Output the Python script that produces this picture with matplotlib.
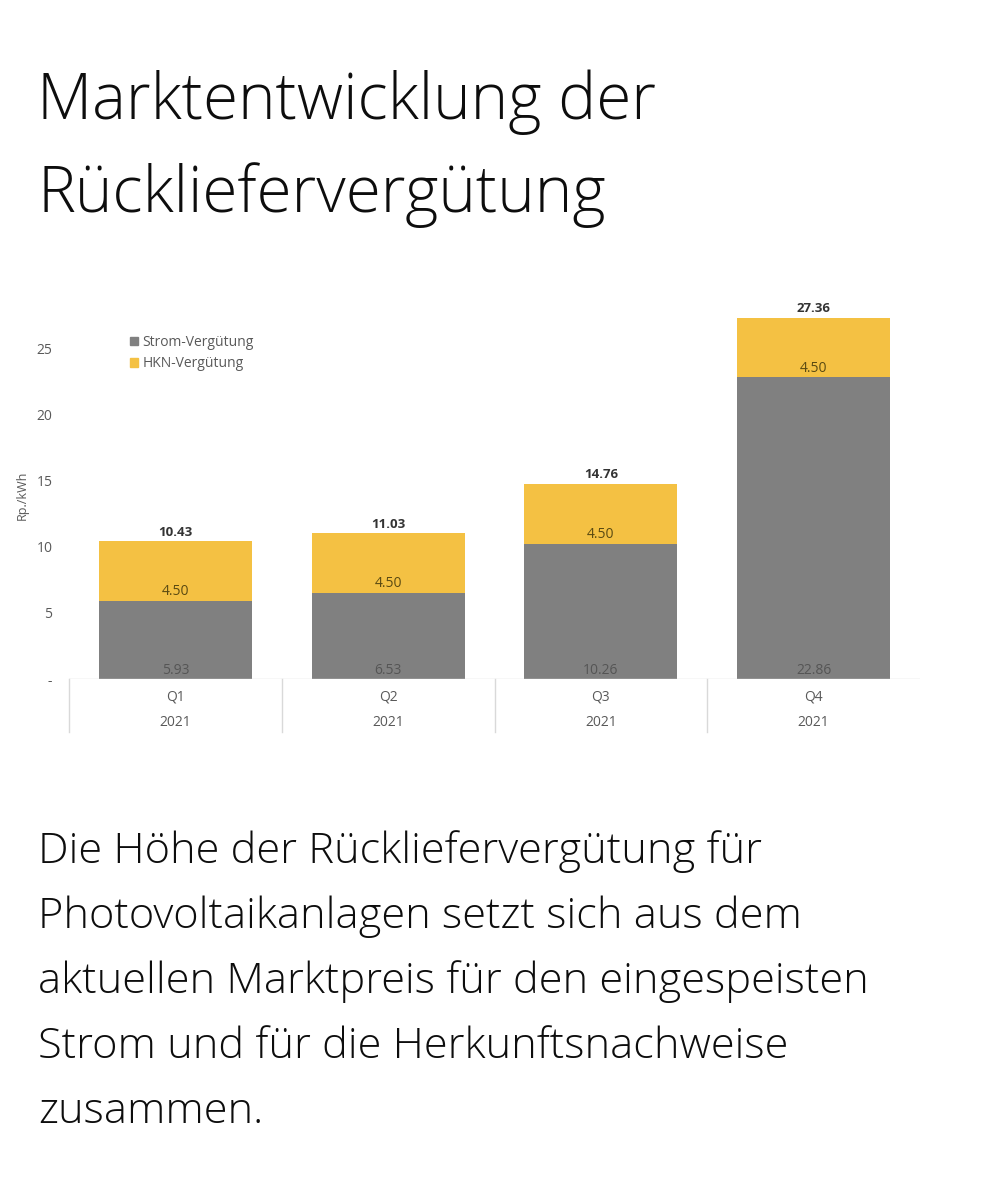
import matplotlib
matplotlib.use("Agg")
import matplotlib.pyplot as plt
import matplotlib.transforms as mtransforms
from matplotlib.patches import Patch

# data
quarters = ['Q1', 'Q2', 'Q3', 'Q4']
years = ['2021', '2021', '2021', '2021']
strom = [5.93, 6.53, 10.26, 22.86]   # Strom-Vergütung
hkn = [4.50, 4.50, 4.50, 4.50]       # HKN-Vergütung
totals = [10.43, 11.03, 14.76, 27.36]
yticks = [0, 5, 10, 15, 20, 25]
ytick_labels = ['-', '5', '10', '15', '20', '25']

title_lines = ['Marktentwicklung der', 'Rückliefervergütung']
body_lines = ['Die Höhe der Rückliefervergütung für',
              'Photovoltaikanlagen setzt sich aus dem',
              'aktuellen Marktpreis für den eingespeisten',
              'Strom und für die Herkunftsnachweise',
              'zusammen.']

GREY = '#808080'
YELLOW = '#F4C143'
TXT = '#595959'
CHART_FONT = 'Open Sans'

W, H = 994, 1200
fig = plt.figure(figsize=(W / 100, H / 100), dpi=100)
fig.patch.set_facecolor('white')
renderer = fig.canvas.get_renderer()

def px(x, y):
    # pixel position (from top left) -> figure fraction
    return x / W, 1 - y / H

def fit_text(lines, x0, y0, step, first_width):
    # size the block so its first line is as wide as in the reference
    texts = [fig.text(*px(x0, y0 + i * step), line, fontsize=30, family='Open Sans',
                      fontweight='light', color='#0d0d0d', va='baseline', ha='left')
             for i, line in enumerate(lines)]
    w = texts[0].get_window_extent(renderer).width
    for t in texts:
        t.set_fontsize(30 * first_width / w)

fit_text(title_lines, 37, 119, 93, 620)
fit_text(body_lines, 38, 863, 65, 725)

# chart
left, right = 69, 920
bottom, top = 679, 283
ax = fig.add_axes([left / W, 1 - bottom / H, (right - left) / W, (bottom - top) / H])
x = list(range(len(quarters)))
ax.bar(x, strom, width=0.72, color=GREY, label='Strom-Vergütung')
ax.bar(x, hkn, width=0.72, bottom=strom, color=YELLOW, label='HKN-Vergütung')
ax.set_xlim(-0.5, 3.5)
ax.set_ylim(0, 30)

for s in ax.spines.values():
    s.set_visible(False)
ax.axhline(0, color='#d9d9d9', lw=1)
ax.set_yticks(yticks)
ax.set_yticklabels(ytick_labels, family=CHART_FONT)
ax.tick_params(axis='y', length=0, pad=12, labelsize=10, labelcolor=TXT)
ax.set_xticks([])
ax.set_ylabel('Rp./kWh', fontsize=9, color=TXT, family=CHART_FONT)
ax.yaxis.set_label_coords(-(69 - 29) / (right - left), (679 - 495) / (bottom - top))

# value labels
for i in x:
    ax.annotate(f'{strom[i]:.2f}', (i, 0), xytext=(0, 1), textcoords='offset points',
                ha='center', va='bottom', fontsize=10, color='#555555', family=CHART_FONT)
    ax.annotate(f'{hkn[i]:.2f}', (i, strom[i]), xytext=(0, 1), textcoords='offset points',
                ha='center', va='bottom', fontsize=10, color='#5a4a12', family=CHART_FONT)
    ax.annotate(f'{totals[i]:.2f}', (i, totals[i]), xytext=(0, 2), textcoords='offset points',
                ha='center', va='bottom', fontsize=9.5, color='#333333', fontweight='bold',
                family=CHART_FONT)

# category table under the axis
trans = mtransforms.blended_transform_factory(ax.transData, ax.transAxes)
depth = (732 - 679) / (bottom - top)
for b in [-0.5, 0.5, 1.5, 2.5]:
    ax.plot([b, b], [0, -depth], transform=trans, color='#d9d9d9', lw=1, clip_on=False)
for i in x:
    ax.text(i, -(697 - 679) / (bottom - top), quarters[i], transform=trans,
            ha='center', va='center', fontsize=10, color=TXT, family=CHART_FONT)
    ax.text(i, -(722 - 679) / (bottom - top), years[i], transform=trans,
            ha='center', va='center', fontsize=10, color=TXT, family=CHART_FONT)

# legend
handles = [Patch(color=GREY, label='Strom-Vergütung'), Patch(color=YELLOW, label='HKN-Vergütung')]
leg = fig.legend(handles=handles, loc='upper left', bbox_to_anchor=px(130, 335),
                 frameon=False, prop={'family': CHART_FONT, 'size': 10},
                 handlelength=0.55, handleheight=0.55,
                 handletextpad=0.35, labelspacing=0.45, borderpad=0, borderaxespad=0)
for t in leg.get_texts():
    t.set_color(TXT)

fig.savefig('out.png', dpi=100, facecolor='white')
